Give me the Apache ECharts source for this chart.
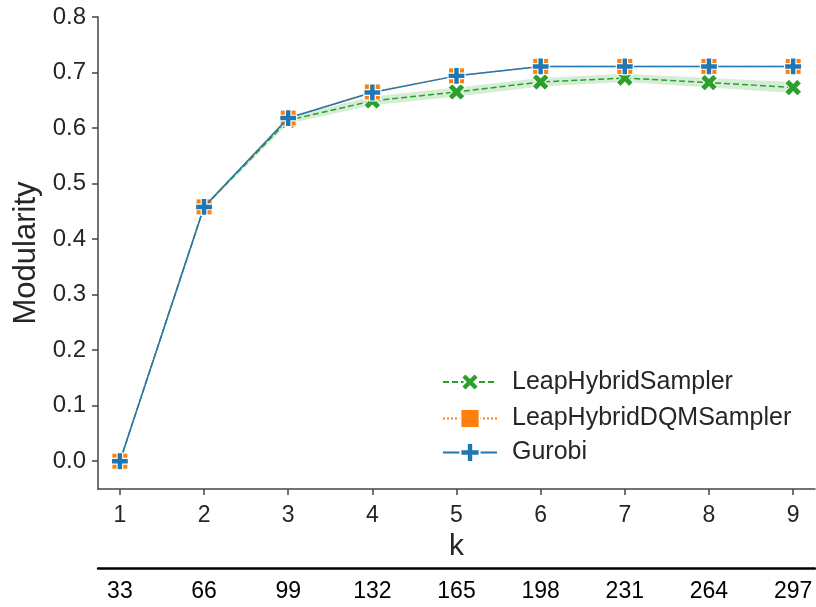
<!DOCTYPE html>
<html>
<head>
<meta charset="utf-8">
<script src="https://cdn.jsdelivr.net/npm/echarts@6/dist/echarts.min.js"></script>
<style>
  html, body { margin: 0; padding: 0; background: #fff; }
  #chart { width: 816px; height: 607px; }
</style>
</head>
<body>
<div id="chart"></div>
<script>
const k_values = [1, 2, 3, 4, 5, 6, 7, 8, 9];
const n_labels = ["33", "66", "99", "132", "165", "198", "231", "264", "297"];
const y_ticks = [0, 0.1, 0.2, 0.3, 0.4, 0.5, 0.6, 0.7, 0.8];

const leap_hybrid = [0.0, 0.458, 0.614, 0.649, 0.665, 0.683, 0.690, 0.682, 0.673];
const leap_lower  = [0.0, 0.455, 0.608, 0.641, 0.657, 0.675, 0.683, 0.673, 0.663];
const leap_upper  = [0.0, 0.461, 0.620, 0.657, 0.673, 0.690, 0.698, 0.690, 0.683];
const leap_dqm    = [0.0, 0.458, 0.618, 0.665, 0.694, 0.711, 0.711, 0.711, 0.711];
const gurobi      = [0.0, 0.458, 0.618, 0.664, 0.694, 0.711, 0.711, 0.711, 0.711];

const BLUE = "#1f77b4", ORANGE = "#ff7f0e", GREEN = "#2ca02c";
const PLUS = "path://M-1,-3H1V-1H3V1H1V3H-1V1H-3V-1H-1Z";
const FONT = "Liberation Sans";
const TEXT = "#262626";

function pairs(ys){
    return k_values.map((k, i) => [k, ys[i]]);
}

// confidence band as one polygon, upper edge then lower edge backwards
function renderBand(params, api){
    const top = k_values.map((k, i) => api.coord([k, leap_upper[i]]));
    const bottom = k_values.map((k, i) => api.coord([k, leap_lower[i]])).reverse();
    return {
        type: 'polygon',
        shape: {points: top.concat(bottom)},
        style: {fill: GREEN, opacity: 0.2},
        silent: true
    };
}

const axisGray = {onZero: false, lineStyle: {color: "#444", width: 1.5}};

const option = {
    animation: false,
    textStyle: {fontFamily: FONT},
    grid: {left: 98, right: 1, top: 17, bottom: 118},
    legend: {
        data: ["LeapHybridSampler", "LeapHybridDQMSampler", "Gurobi"],
        orient: 'vertical', left: 437, top: 362,
        itemWidth: 54, itemHeight: 24, itemGap: 9,
        textStyle: {fontSize: 25, color: TEXT, fontFamily: FONT, padding: [0, 0, 0, 10]}
    },
    xAxis: [
        {
            type: 'value', min: 0.74, max: 9.26,
            splitLine: {show: false},
            axisLine: axisGray,
            axisTick: {customValues: k_values, length: 6, lineStyle: {color: "#444", width: 1.5}},
            axisLabel: {customValues: k_values, fontSize: 23, color: TEXT, margin: 15},
            name: "k", nameLocation: 'middle', nameGap: 41,
            nameTextStyle: {fontSize: 30, color: TEXT}
        },
        {
            type: 'value', min: 0.74, max: 9.26, position: 'bottom', offset: 79,
            splitLine: {show: false},
            axisLine: {onZero: false, lineStyle: {color: "#000", width: 2.5}},
            axisTick: {show: false},
            axisLabel: {
                customValues: k_values, fontSize: 23, color: "#000", margin: 12,
                formatter: (v) => n_labels[k_values.indexOf(Math.round(v))] || ""
            }
        }
    ],
    yAxis: {
        type: 'value', min: -0.05, max: 0.8,
        splitLine: {show: false},
        axisLine: {show: true, onZero: false, lineStyle: {color: "#444", width: 1.5}},
        axisTick: {show: true, customValues: y_ticks, length: 6, lineStyle: {color: "#444", width: 1.5}},
        axisLabel: {customValues: y_ticks, fontSize: 24, color: TEXT, margin: 12,
            formatter: (v) => v.toFixed(1)},
        name: "Modularity", nameLocation: 'middle', nameGap: 54,
        nameTextStyle: {fontSize: 31, color: TEXT}
    },
    series: [
        {
            name: "band", type: 'custom', renderItem: renderBand,
            data: [[k_values[0], leap_lower[0]]], z: 1, silent: true
        },
        {
            name: "LeapHybridSampler", type: 'line', data: pairs(leap_hybrid),
            symbol: PLUS, symbolRotate: 45, symbolSize: 18, z: 2,
            itemStyle: {color: GREEN, borderColor: "#fff", borderWidth: 1},
            lineStyle: {color: GREEN, width: 1.5, type: [6, 3]}
        },
        {
            name: "LeapHybridDQMSampler", type: 'line', data: pairs(leap_dqm),
            symbol: 'rect', symbolSize: 16, z: 3,
            itemStyle: {color: ORANGE, borderColor: "#fff", borderWidth: 1},
            lineStyle: {color: ORANGE, width: 1.5, type: 'dotted'}
        },
        {
            name: "Gurobi", type: 'line', data: pairs(gurobi),
            symbol: PLUS, symbolSize: 17, z: 4,
            itemStyle: {color: BLUE, borderColor: "#fff", borderWidth: 1.2},
            lineStyle: {color: BLUE, width: 1.5}
        }
    ]
};

const chart = echarts.init(document.getElementById("chart"), null, { renderer: 'canvas' });
chart.setOption(option);
</script>
</body>
</html>
